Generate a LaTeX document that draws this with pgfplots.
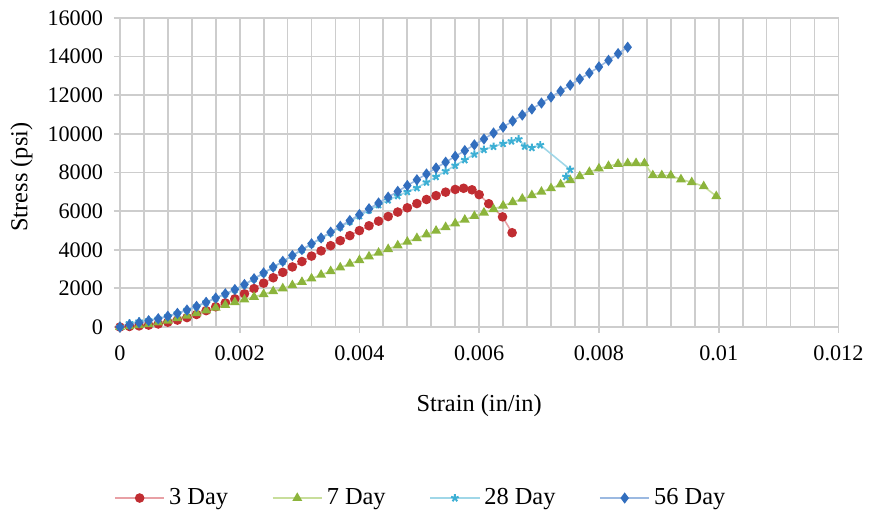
\documentclass[border=0pt]{standalone}
\usepackage{fontspec}
\setmainfont{Liberation Serif}
\usepackage{pgfplots}
\pgfplotsset{compat=1.18}
\definecolor{cR}{RGB}{192,45,50}
\definecolor{cRl}{RGB}{232,160,165}
\definecolor{cG}{RGB}{140,180,60}
\definecolor{cGl}{RGB}{200,222,155}
\definecolor{cC}{RGB}{60,175,212}
\definecolor{cCl}{RGB}{160,215,232}
\definecolor{cB}{RGB}{50,110,190}
\definecolor{cBl}{RGB}{155,185,225}
\definecolor{gridc}{RGB}{205,205,205}
\begin{document}
\begin{tikzpicture}
\begin{axis}[
  scale only axis, width=362.5pt, height=156pt,
  xmin=0, xmax=0.012, ymin=0, ymax=16000,
  xtick={0,0.002,0.004,0.006,0.008,0.01,0.012},
  xticklabels={0,0.002,0.004,0.006,0.008,0.01,0.012},
  minor xtick={0.0004,0.0008,0.0012,0.0016,0.0024,0.0028,0.0032,0.0036,0.0044,0.0048,0.0052,0.0056,0.0064,0.0068,0.0072,0.0076,0.0084,0.0088,0.0092,0.0096,0.0104,0.0108,0.0112,0.0116},
  ytick={0,2000,4000,6000,8000,10000,12000,14000,16000},
  yticklabels={0,2000,4000,6000,8000,10000,12000,14000,16000},
  scaled x ticks=false, scaled y ticks=false,
  grid=both,
  major grid style={draw=gridc, line width=0.9pt},
  minor grid style={draw=gridc, line width=0.9pt},
  axis line style={draw=gridc, line width=0.9pt},
  tick align=outside, major tick length=3pt, minor tick length=0pt,
  tick style={draw=gridc, line width=0.9pt},
  xtick pos=bottom, ytick pos=left,
  ticklabel style={font=\fontsize{11.2}{13}\selectfont},
  xticklabel style={yshift=-3pt},
  yticklabel style={xshift=-2pt},
  label style={font=\fontsize{12.3}{14}\selectfont},
  xlabel={Strain (in/in)},
  ylabel={Stress (psi)},
  xlabel style={at={(axis description cs:0.5,-0.255)}, anchor=center},
  ylabel style={at={(axis description cs:-0.137,0.485)}, anchor=center},
  legend columns=4,
  legend style={draw=none, fill=none, at={(0.42,-0.553)}, anchor=center,
    font=\fontsize{12.3}{14}\selectfont,
    /tikz/every even column/.append style={column sep=20pt}},
  legend image code/.code={
    \draw[mark repeat=2,mark phase=2,#1] plot coordinates {(0pt,0pt) (12.5pt,0pt) (25pt,0pt)};
  },
]
\coordinate (sw) at (rel axis cs:0,0);
\addplot[color=cRl, line width=0.8pt, mark=*, mark size=2pt, mark options={draw=cR, fill=cR}] coordinates {
(0,0) (0.00016,30) (0.00032,60) (0.00048,100) (0.00064,160) (0.0008,250) (0.00096,360) (0.00112,490)
(0.00128,650) (0.00144,850) (0.0016,1050) (0.00176,1250) (0.00192,1460) (0.00208,1720) (0.00224,1990)
(0.0024,2270) (0.00256,2550) (0.00272,2830) (0.00288,3110) (0.00304,3390) (0.0032,3670) (0.00336,3940)
(0.00352,4210) (0.00368,4470) (0.00384,4730) (0.004,4990) (0.00416,5240) (0.00432,5480) (0.00448,5720)
(0.00464,5950) (0.0048,6170) (0.00496,6390) (0.00512,6600) (0.00528,6800) (0.00544,6980) (0.0056,7120)
(0.00574,7180) (0.00588,7100) (0.006,6850) (0.00616,6380) (0.00639,5700) (0.00655,4880)
};
\addlegendentry{3 Day}
\addplot[color=cGl, line width=0.8pt, mark=triangle*, mark size=2.1pt, mark options={draw=cG, fill=cG}] coordinates {
(0,0) (0.00016,40) (0.00032,90) (0.00048,150) (0.00064,230) (0.0008,330) (0.00096,450) (0.00112,580)
(0.00128,720) (0.00144,860) (0.0016,1000) (0.00176,1140) (0.00192,1280) (0.00208,1420) (0.00224,1560)
(0.0024,1700) (0.00256,1850) (0.00272,2000) (0.00288,2160) (0.00304,2330) (0.0032,2510) (0.00336,2700)
(0.00352,2890) (0.00368,3080) (0.00384,3270) (0.004,3460) (0.00416,3650) (0.00432,3840) (0.00448,4030)
(0.00464,4220) (0.0048,4410) (0.00496,4600) (0.00512,4790) (0.00528,4980) (0.00544,5170) (0.0056,5360)
(0.00576,5550) (0.00592,5740) (0.00608,5920) (0.00624,6100) (0.0064,6280) (0.00656,6460) (0.00672,6640)
(0.00688,6820) (0.00704,7000) (0.0072,7180) (0.00736,7380) (0.00752,7600) (0.00768,7800) (0.00784,8020)
(0.008,8200) (0.00816,8330) (0.00832,8440) (0.00848,8470) (0.00862,8480) (0.00876,8470) (0.0089,7850)
(0.00905,7850) (0.0092,7840) (0.00937,7640) (0.00955,7490) (0.00975,7280) (0.00996,6770)
};
\addlegendentry{7 Day}
\addplot[color=cCl, line width=0.8pt, mark=star, mark size=2pt, mark options={draw=cC, line width=1pt}] coordinates {
(0,0) (0.00016,200) (0.00032,290) (0.00048,350) (0.00064,430) (0.0008,560) (0.00096,710) (0.00112,880)
(0.00128,1070) (0.00144,1280) (0.0016,1490) (0.00176,1710) (0.00192,1930) (0.00208,2190) (0.00224,2490)
(0.0024,2790) (0.00256,3090) (0.00272,3390) (0.00288,3690) (0.00304,3990) (0.0032,4290) (0.00336,4590)
(0.00352,4880) (0.00368,5170) (0.00384,5460) (0.004,5750) (0.00416,6050) (0.00432,6320) (0.00448,6570)
(0.00464,6790) (0.0048,7000) (0.00496,7200) (0.00512,7490) (0.00528,7780) (0.00544,8070) (0.0056,8360)
(0.00576,8650) (0.00592,8940) (0.00608,9180) (0.00624,9340) (0.0064,9490) (0.00654,9620) (0.00666,9720)
(0.00676,9350) (0.00688,9280) (0.00702,9420) (0.00752,8150) (0.00745,7780)
};
\addlegendentry{28 Day}
\addplot[color=cBl, line width=0.8pt, mark=diamond*, mark size=2.2pt, mark options={draw=cB, fill=cB}] coordinates {
(0,0) (0.00016,120) (0.00032,230) (0.00048,330) (0.00064,430) (0.0008,560) (0.00096,710) (0.00112,880)
(0.00128,1070) (0.00144,1280) (0.0016,1500) (0.00176,1720) (0.00192,1940) (0.00208,2200) (0.00224,2500)
(0.0024,2800) (0.00256,3100) (0.00272,3400) (0.00288,3700) (0.00304,4010) (0.0032,4310) (0.00336,4610)
(0.00352,4910) (0.00368,5210) (0.00384,5510) (0.004,5820) (0.00416,6120) (0.00432,6420) (0.00448,6720)
(0.00464,7020) (0.0048,7320) (0.00496,7620) (0.00512,7920) (0.00528,8230) (0.00544,8530) (0.0056,8830)
(0.00576,9130) (0.00592,9430) (0.00608,9730) (0.00624,10040) (0.0064,10350) (0.00656,10660) (0.00672,10970)
(0.00688,11280) (0.00704,11590) (0.0072,11900) (0.00736,12210) (0.00752,12520) (0.00768,12830)
(0.00784,13140) (0.008,13460) (0.00816,13800) (0.00832,14150) (0.00848,14480)
};
\addlegendentry{56 Day}
\end{axis}
\path (sw) ++(-60.5pt,-91.5pt) rectangle ++(435pt,256.5pt);
\end{tikzpicture}
\end{document}
